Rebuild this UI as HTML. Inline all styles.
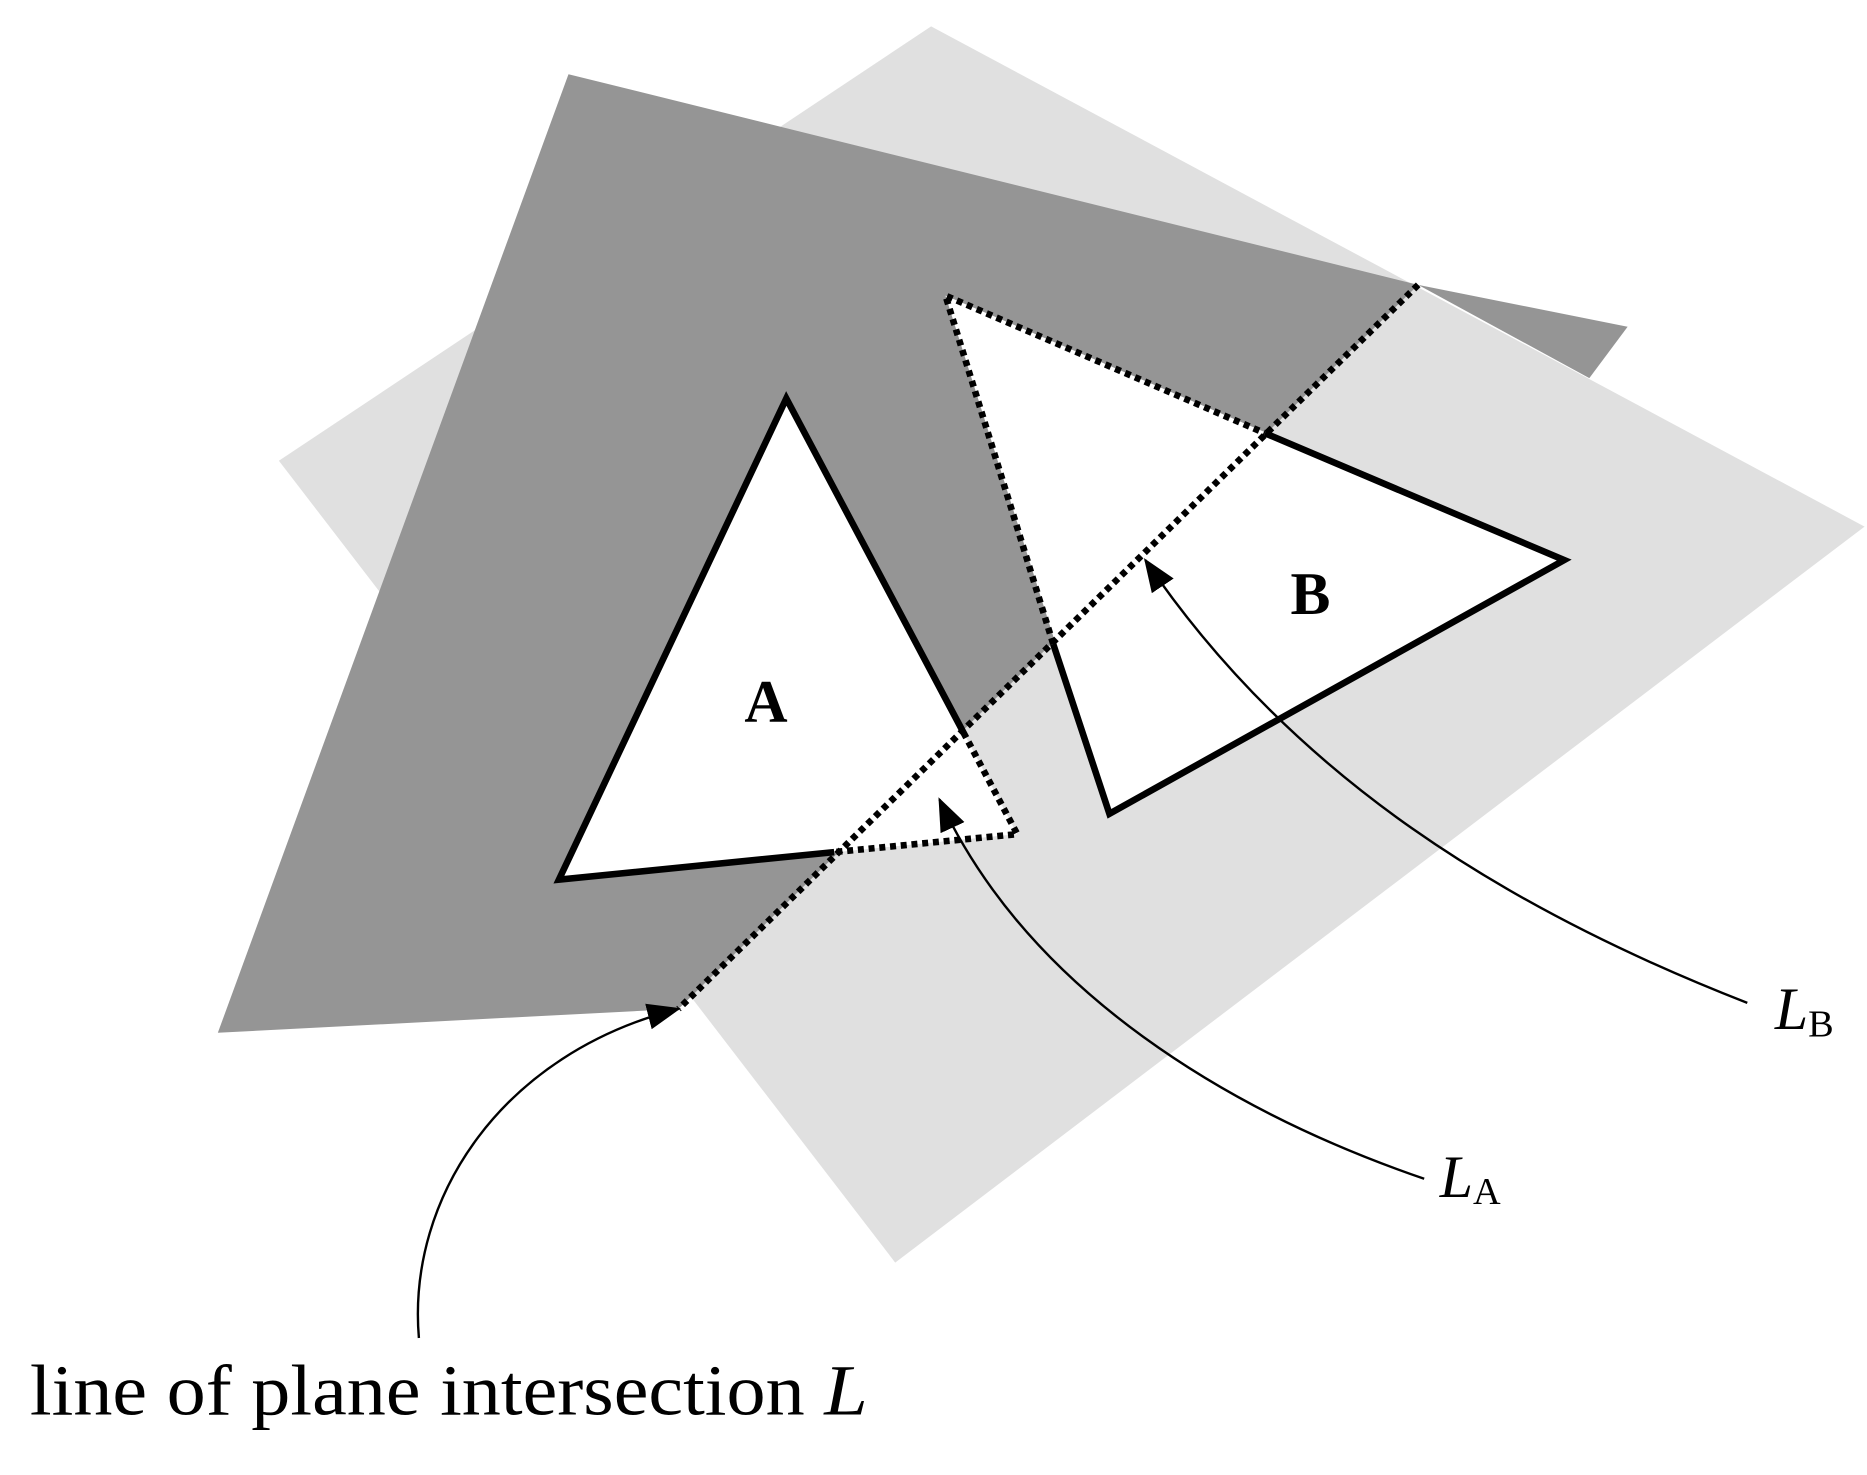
<!DOCTYPE html>
<html><head><meta charset="utf-8"><style>html,body{margin:0;padding:0;background:#fff}svg{display:block}</style></head>
<body>
<svg width="1867" height="1475" viewBox="0 0 1560 1232.5" xmlns="http://www.w3.org/2000/svg">
<defs>
<marker id="a2" markerWidth="28" markerHeight="22" refX="26" refY="11" orient="auto" markerUnits="userSpaceOnUse"><path d="M0,0 L28,11 L0,22 z" fill="#000"/></marker></defs>
<polygon points="233,385 778,22 1558,440 748,1055" fill="#e0e0e0"/>
<polygon points="475,62 1185,238 567,843 182,863" fill="#959595"/>
<polygon points="1185,238 1360,273 1328,316" fill="#959595"/>
<polygon points="657,333 467,735 850,697" fill="#fff"/>
<polygon points="790,247 1307,468 927,680" fill="#fff"/>
<g fill="none" stroke="#000" stroke-width="5.5" stroke-linejoin="miter">
<polyline points="805,612 657,333 467,735 697,712"/>
<polyline points="1057,362 1307,468 927,680 880,538"/>
</g>
<g fill="none" stroke="#000" stroke-width="5.5" stroke-dasharray="5,4">
<polyline points="805,612 850,697 697,712"/>
<polyline points="880,538 790,247 1057,362"/>
<line x1="1185" y1="238" x2="567" y2="843"/>
</g>
<g fill="none" stroke="#000" stroke-width="2">
<path d="M1190,985 C1030,930 860,830 785,668" marker-end="url(#a2)"/>
<path d="M1460,838 C1260,760 1080,650 957,468" marker-end="url(#a2)"/>
<path d="M350,1118 C340,1000 420,880 567,843" marker-end="url(#a2)"/>
</g>
<g font-family="'Liberation Serif',serif" fill="#000">
<text x="640" y="603" font-size="50" font-weight="bold" text-anchor="middle">A</text>
<text x="1095" y="513" font-size="50" font-weight="bold" text-anchor="middle">B</text>
<text x="1483" y="860" font-size="50" font-style="italic">L<tspan font-size="32" font-style="normal" dy="6">B</tspan></text>
<text x="1203" y="1000" font-size="50" font-style="italic">L<tspan font-size="32" font-style="normal" dy="6">A</tspan></text>
<text x="25" y="1182" font-size="60" textLength="700" lengthAdjust="spacingAndGlyphs">line of plane intersection <tspan font-style="italic">L</tspan></text>
</g>
</svg>
</body></html>
